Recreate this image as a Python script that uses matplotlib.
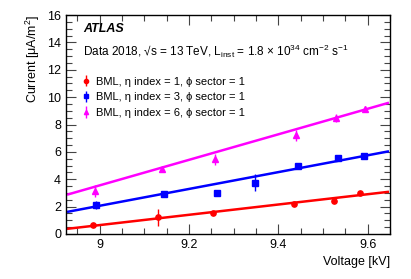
import matplotlib.pyplot as plt
import numpy as np

plt.rcParams['font.family'] = ['Liberation Sans', 'DejaVu Sans']
plt.rcParams['mathtext.fontset'] = 'custom'
plt.rcParams['mathtext.rm'] = 'Liberation Sans'
plt.rcParams['mathtext.it'] = 'Liberation Sans:italic'

# 数据
v_red = [8.985, 9.130, 9.254, 9.435, 9.525, 9.582]
i_red = [0.66, 1.23, 1.51, 2.21, 2.43, 2.97]
e_red = [0.08, 0.62, 0.08, 0.08, 0.08, 0.08]

v_blue = [8.993, 9.144, 9.263, 9.349, 9.445, 9.533, 9.592]
i_blue = [2.12, 2.92, 2.99, 3.75, 4.98, 5.52, 5.71]
e_blue = [0.30, 0.10, 0.10, 0.60, 0.15, 0.12, 0.08]

v_mag = [8.991, 9.140, 9.259, 9.440, 9.530, 9.593]
i_mag = [3.14, 4.74, 5.45, 7.23, 8.45, 9.12]
e_mag = [0.42, 0.08, 0.40, 0.40, 0.30, 0.20]

# 拟合直线参数（斜率, V=9 kV 处的值）
fit_slope = [3.76, 6.15, 9.33]
fit_at9 = [0.65, 2.06, 3.55]
fit_range = [8.93, 9.645]

labels = ['BML, η index = 1, ϕ sector = 1',
          'BML, η index = 3, ϕ sector = 1',
          'BML, η index = 6, ϕ sector = 1']

fig = plt.figure(figsize=(4.11, 2.79), dpi=100)
ax = fig.add_axes([66/411, 45/279, 324/411, 219/279])

series = [(v_red, i_red, e_red, 'red', 'o'),
          (v_blue, i_blue, e_blue, 'blue', 's'),
          (v_mag, i_mag, e_mag, 'magenta', '^')]
xfit = np.array(fit_range)
for k, ((v, i, e, c, m), lab) in enumerate(zip(series, labels)):
    ax.errorbar(v, i, yerr=e, fmt=m, color=c, ms=3.8, elinewidth=1,
                capsize=0, label=lab)
    ax.plot(xfit, fit_at9[k] + fit_slope[k] * (xfit - 9), color=c, lw=1.8)

ax.set_xlim(8.925, 9.643)
ax.set_ylim(0, 16)
ax.set_xticks([9, 9.2, 9.4, 9.6])
ax.set_xticklabels(['9', '9.2', '9.4', '9.6'])
ax.set_xticks(np.arange(8.95, 9.65, 0.05), minor=True)
ax.set_yticks(range(0, 17, 2))
ax.set_yticks(np.arange(0, 16.1, 0.5), minor=True)
ax.tick_params(which='both', direction='in', top=True, right=True,
               labelsize=9, color='#444444')
ax.tick_params(which='major', length=7, width=0.8)
ax.tick_params(which='minor', length=4, width=0.8)
for s in ax.spines.values():
    s.set_linewidth(1.0)

ax.set_xlabel('Voltage [kV]', fontsize=9, loc='right')
ax.set_ylabel('Current [μA/m$^2$]', fontsize=9, loc='top')

ax.text(0.052, 0.936, 'ATLAS', transform=ax.transAxes, fontsize=9,
        fontweight='bold', fontstyle='italic', va='center')
ax.text(0.052, 0.836,
        'Data 2018, √s = 13 TeV, L$_{\\rm inst}$ = 1.8 × 10$^{34}$ cm$^{-2}$ s$^{-1}$',
        transform=ax.transAxes, fontsize=8.5, va='center')

ax.legend(loc='upper left', bbox_to_anchor=(0.035, 0.738), frameon=False,
          fontsize=8, handlelength=0.8, handletextpad=0.5,
          labelspacing=0.5, borderaxespad=0.0, markerscale=0.8)

fig.savefig('out.png', dpi=100)
